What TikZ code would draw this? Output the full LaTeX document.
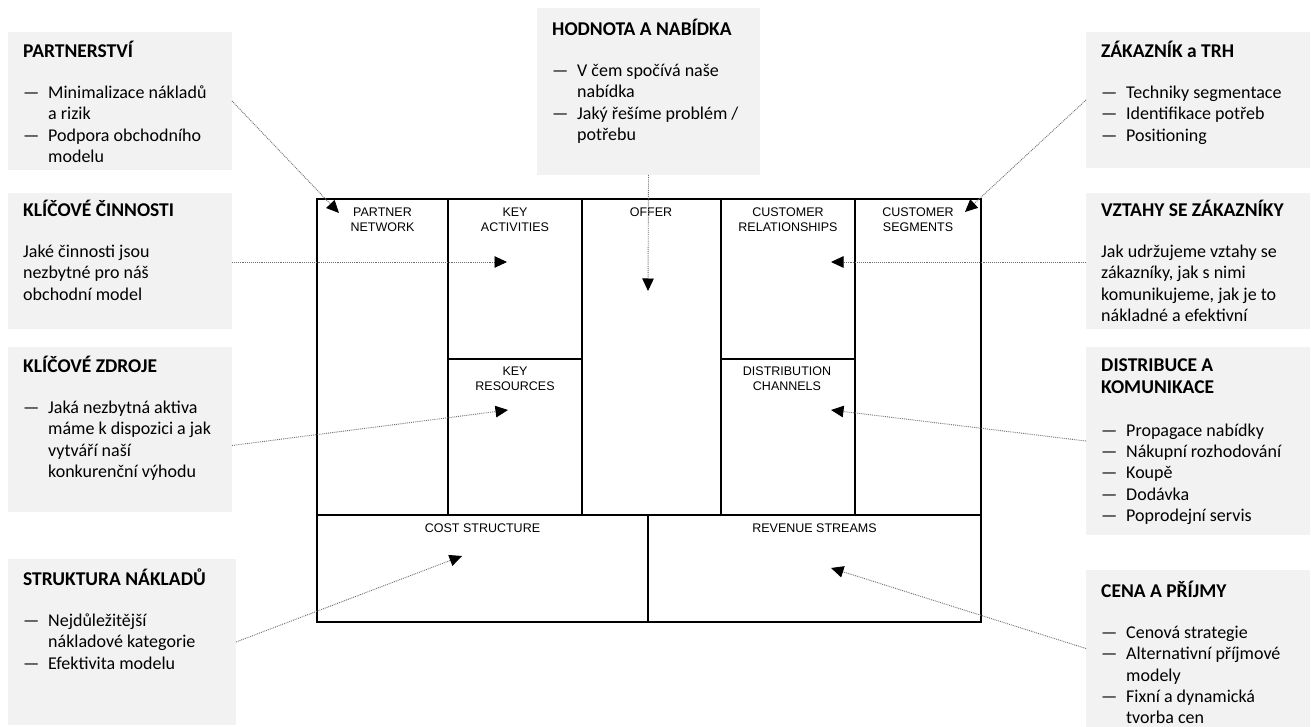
\documentclass[tikz,border=0pt]{standalone}
\usepackage{fontspec}
\setmainfont{Carlito}
\newfontfamily\helv{Liberation Sans}
\usetikzlibrary{arrows.meta,calc}
\definecolor{boxgray}{HTML}{F2F2F2}
\definecolor{dotgray}{HTML}{6E6E6E}
\newcommand\itemdash{\makebox[25pt][l]{—}}
\newcommand\itemind{\hspace*{25pt}}
\newcommand\boxtitle[1]{{\fontsize{19.5}{21.3}\selectfont\bfseries #1}}
\tikzset{
  infobox/.style={fill=boxgray, draw=none, inner sep=0pt, outer sep=0pt, anchor=north west},
  infotext/.style={anchor=base west, align=left, inner sep=0pt, font=\fontsize{18}{21.3}\selectfont},
  cell/.style={anchor=base, align=center, inner sep=0pt, font=\helv\fontsize{12.5}{15}\selectfont},
  conn/.style={draw=dotgray, densely dotted, line width=0.9pt, -{Triangle[length=12.5pt,width=11.5pt,color=black]}},
  outerline/.style={line width=1.5pt, black},
  innerline/.style={line width=1.1pt, black},
}
\begin{document}
\begin{tikzpicture}[x=1pt,y=-1pt]
\useasboundingbox (0,0) rectangle (1311,727);
\fill[white] (0,0) rectangle (1311,727);

% grey info boxes
\node[infobox, minimum width=224pt, minimum height=138pt] (b1) at (8,32) {};
\node[infobox, minimum width=223pt, minimum height=167pt] (b2) at (537,8) {};
\node[infobox, minimum width=224pt, minimum height=136pt] (b3) at (1086,32) {};
\node[infobox, minimum width=224pt, minimum height=136pt] (b4) at (8,193) {};
\node[infobox, minimum width=224pt, minimum height=165pt] (b5) at (8,347) {};
\node[infobox, minimum width=228pt, minimum height=166pt] (b6) at (8,559) {};
\node[infobox, minimum width=224pt, minimum height=136pt] (b7) at (1086,193) {};
\node[infobox, minimum width=224pt, minimum height=188pt] (b8) at (1086,347) {};
\node[infobox, minimum width=224pt, minimum height=157pt] (b9) at (1086,570) {};

% texts (anchor = baseline of the last line)
\node[infotext] (x1) at (23,162.4) {\boxtitle{PARTNERSTVÍ}\\[19.7pt]
  \itemdash Minimalizace nákladů\\ \itemind a rizik\\
  \itemdash Podpora obchodního\\ \itemind modelu};
\node[infotext] (x2) at (552,140.4) {\boxtitle{HODNOTA A NABÍDKA}\\[19.7pt]
  \itemdash V čem spočívá naše\\ \itemind nabídka\\
  \itemdash Jaký řešíme problém /\\ \itemind potřebu};
\node[infotext] (x3) at (1101,141.1) {\boxtitle{ZÁKAZNÍK a TRH}\\[19.7pt]
  \itemdash Techniky segmentace\\
  \itemdash Identifikace potřeb\\
  \itemdash Positioning};
\node[infotext] (x4) at (23,300.1) {\boxtitle{KLÍČOVÉ ČINNOSTI}\\[19.7pt]
  Jaké činnosti jsou\\ nezbytné pro náš\\ obchodní model};
\node[infotext] (x5) at (23,477.4) {\boxtitle{KLÍČOVÉ ZDROJE}\\[19.7pt]
  \itemdash Jaká nezbytná aktiva\\ \itemind máme k dispozici a jak\\
  \itemind vytváří naší\\ \itemind konkurenční výhodu};
\node[infotext] (x6) at (23,669.1) {\boxtitle{STRUKTURA NÁKLADŮ}\\[19.7pt]
  \itemdash Nejdůležitější\\ \itemind nákladové kategorie\\
  \itemdash Efektivita modelu};
\node[infotext] (x7) at (1101,321.4) {\boxtitle{VZTAHY SE ZÁKAZNÍKY}\\[19.7pt]
  Jak udržujeme vztahy se\\ zákazníky, jak s nimi\\ komunikujeme, jak je to\\ nákladné a efektivní};
\node[infotext] (x8) at (1101,521.3) {\boxtitle{DISTRIBUCE A}\\[1.5pt] \boxtitle{KOMUNIKACE}\\[21pt]
  \itemdash Propagace nabídky\\
  \itemdash Nákupní rozhodování\\
  \itemdash Koupě\\
  \itemdash Dodávka\\
  \itemdash Poprodejní servis};
\node[infotext] (x9) at (1101,723.7) {\boxtitle{CENA A PŘÍJMY}\\[19.7pt]
  \itemdash Cenová strategie\\
  \itemdash Alternativní příjmové\\ \itemind modely\\
  \itemdash Fixní a dynamická\\ \itemind tvorba cen};

% canvas grid
\draw[innerline] (448,199) -- (448,515);
\draw[innerline] (582,199) -- (582,515);
\draw[innerline] (721,199) -- (721,515);
\draw[innerline] (855,199) -- (855,515);
\draw[innerline] (448,359) -- (582,359);
\draw[innerline] (721,359) -- (855,359);
\draw[outerline] (317,515) -- (981,515);
\draw[innerline] (648,515) -- (648,622);
\draw[outerline] (317,199) rectangle (981,622);

% cell labels (anchor = baseline of the last line)
\node[cell] (c1) at (382.5,232) {PARTNER\\NETWORK};
\node[cell] (c2) at (515,232) {KEY\\ACTIVITIES};
\node[cell] (c3) at (651,217) {OFFER};
\node[cell] (c4) at (788,232) {CUSTOMER\\RELATIONSHIPS};
\node[cell] (c5) at (918,232) {CUSTOMER\\SEGMENTS};
\node[cell] (c6) at (515,390) {KEY\\RESOURCES};
\node[cell] (c7) at (787,390) {DISTRIBUTION\\CHANNELS};
\node[cell] (c8) at (482.5,532) {COST STRUCTURE};
\node[cell] (c9) at (814.5,532) {REVENUE STREAMS};

% arrow tips
\coordinate (t1) at (339,213);
\coordinate (t2) at (648,291);
\coordinate (t3) at (965,212);
\coordinate (t4) at (507,262);
\coordinate (t5) at (508,410);
\coordinate (t6) at (462,556);
\coordinate (t7) at (831,262);
\coordinate (t8) at (831,410);
\coordinate (t9) at (831,568);

\draw[conn] (b1.east) -- (t1);
\draw[conn] (b2.south) -- (t2);
\draw[conn] (b3.west) -- (t3);
\draw[conn] (b4.east |- t4) -- (t4);
\draw[conn] ($(b5.east)+(0,16)$) -- (t5);
\draw[conn] (b6.east) -- (t6);
\draw[conn] (b7.west |- t7) -- (t7);
\draw[conn] (b8.west) -- (t8);
\draw[conn] (b9.west) -- (t9);
\end{tikzpicture}
\end{document}
